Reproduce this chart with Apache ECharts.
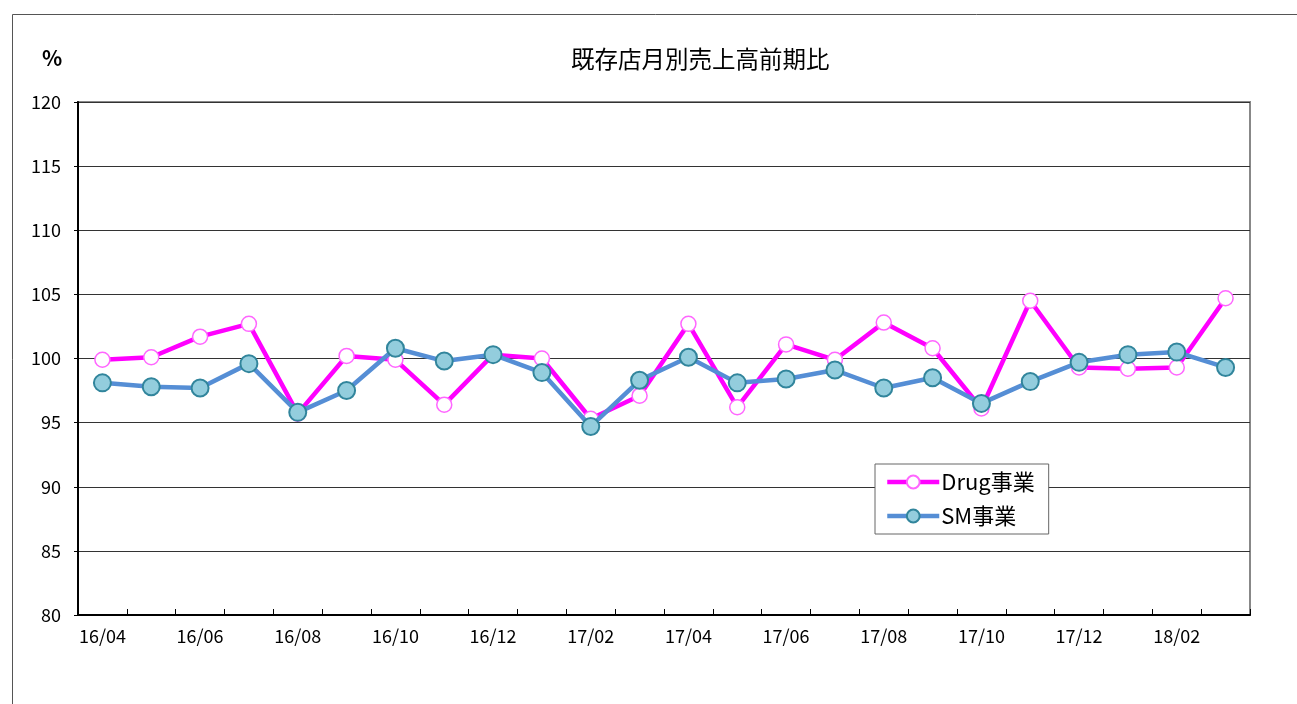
<!DOCTYPE html>
<html><head><meta charset="utf-8">
<script src="https://cdn.jsdelivr.net/npm/echarts@6/dist/echarts.min.js"></script>
<style>html,body{margin:0;padding:0;background:#fff}#c{width:1297px;height:704px}</style>
</head><body><div id="c"></div>
<script>
const categories = ['16/04','16/05','16/06','16/07','16/08','16/09','16/10','16/11','16/12','17/01','17/02','17/03','17/04','17/05','17/06','17/07','17/08','17/09','17/10','17/11','17/12','18/01','18/02','18/03'];
const drugValues = [99.9,100.1,101.7,102.7,95.7,100.2,99.9,96.4,100.3,100.0,95.3,97.1,102.7,96.2,101.1,99.9,102.8,100.8,96.1,104.5,99.3,99.2,99.3,104.7];
const smValues = [98.1,97.8,97.7,99.6,95.8,97.5,100.8,99.8,100.3,98.9,94.7,98.3,100.1,98.1,98.4,99.1,97.7,98.5,96.5,98.2,99.7,100.3,100.5,99.3];
const yTicks = {min:80, max:120, interval:5};
const titleText = '既存店月別売上高前期比';
const unitText = '%';
const seriesNames = ['Drug事業','SM事業'];

const FONT = '"Noto Sans CJK JP", "Liberation Sans", sans-serif';
const chart = echarts.init(document.getElementById('c'), null, {renderer:'canvas'});
chart.setOption({
  animation:false,
  backgroundColor:'#fff',
  graphic:[
    {type:'rect', left:10, top:12, shape:{width:1300, height:700}, style:{fill:'none', stroke:'#555', lineWidth:1}, z:-1},
    {type:'text', left:42, top:48, style:{text:unitText, font:'bold 21px '+FONT, fill:'#000'}}
  ],
  title:{text:titleText, left:566, top:42, textStyle:{fontFamily:FONT, fontSize:23.5, fontWeight:'normal', color:'#000'}},
  legend:{
    orient:'vertical', left:875, top:464,
    backgroundColor:'#fff', borderColor:'#666', borderWidth:1,
    padding:[7,14,7,10], itemGap:12, itemWidth:52, itemHeight:16,
    textStyle:{fontFamily:FONT, fontSize:22, color:'#000', padding:[0,0,0,-3]},
    lineStyle:{width:4.5},
    data:seriesNames
  },
  grid:{left:78, top:102, right:47, bottom:89, show:true, borderColor:'#888', borderWidth:2, backgroundColor:'transparent'},
  xAxis:{
    type:'category', data:categories, boundaryGap:true,
    axisLine:{lineStyle:{color:'#000', width:2}},
    axisTick:{show:true, inside:true, length:6, interval:0, lineStyle:{color:'#000'}},
    axisLabel:{interval:1, margin:12, fontFamily:FONT, fontSize:18, color:'#000'},
    splitLine:{show:false}
  },
  yAxis:{
    type:'value', min:yTicks.min, max:yTicks.max, interval:yTicks.interval,
    axisLine:{show:true, lineStyle:{color:'#000', width:2}},
    axisTick:{show:true, length:4, lineStyle:{color:'#000'}},
    axisLabel:{margin:17, fontFamily:FONT, fontSize:18, color:'#000'},
    splitLine:{show:true, lineStyle:{color:'#333', width:1}}
  },
  series:[
    {name:seriesNames[0], type:'line', data:drugValues, symbol:'circle', symbolSize:15,
     lineStyle:{color:'#FF00FF', width:4.5}, itemStyle:{color:'#fff', borderColor:'#FF66FF', borderWidth:1.5}, z:2},
    {name:seriesNames[1], type:'line', data:smValues, symbol:'circle', symbolSize:17,
     lineStyle:{color:'#558ED5', width:4.5}, itemStyle:{color:'#93CDDD', borderColor:'#31859C', borderWidth:2}, z:3}
  ]
});
</script></body></html>
